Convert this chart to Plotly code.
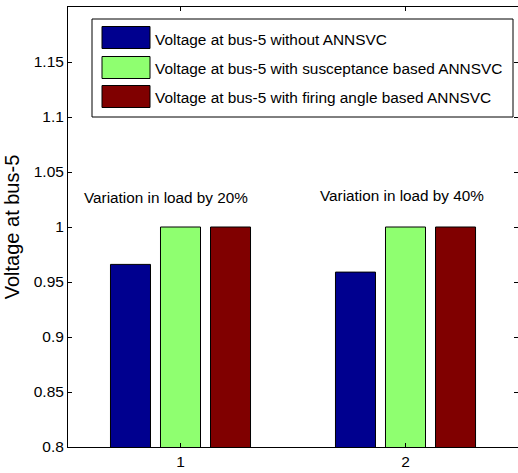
import plotly.graph_objects as go

categories = [1, 2]
series_names = [
    "Voltage at bus-5 without ANNSVC",
    "Voltage at bus-5 with susceptance based ANNSVC",
    "Voltage at bus-5 with firing angle based ANNSVC",
]
without_svc = [0.966, 0.959]
susceptance_svc = [1.0, 1.0]
firing_svc = [1.0, 1.0]
series_values = [without_svc, susceptance_svc, firing_svc]
colors = ["#00008F", "#8FFF70", "#800000"]
group_labels = ["Variation in load by 20%", "Variation in load by 40%"]
label_pos_x = [0.935, 1.985]
label_pos_y = [1.027, 1.029]
y_ticks = [0.8, 0.85, 0.9, 0.95, 1, 1.05, 1.1, 1.15]
y_ticktext = ["0.8", "0.85", "0.9", "0.95", "1", "1.05", "1.1", "1.15"]

FONT = "Liberation Sans, Arial, sans-serif"
W, H = 518, 473
ML, MR, MT, MB = 68, 0, 7, 26
PW, PH = W - ML - MR, H - MT - MB


def px(x):
    return (x - ML) / PW


def py(y):
    return (H - MB - y) / PH


fig = go.Figure()
for name, vals, col in zip(series_names, series_values, colors):
    fig.add_trace(go.Bar(
        x=categories, y=vals, name=name,
        marker=dict(color=col, line=dict(color="black", width=1)),
        showlegend=False,
    ))

annotations = []
for txt, ax, ay in zip(group_labels, label_pos_x, label_pos_y):
    annotations.append(dict(x=ax, y=ay, xref="x", yref="y", text=txt,
                            showarrow=False, font=dict(size=15.3, color="black", family=FONT)))

# custom legend
shapes = [dict(type="rect", xref="paper", yref="paper",
               x0=px(92), x1=px(513), y0=py(117), y1=py(19),
               line=dict(color="black", width=1), fillcolor="white", layer="above")]
row_y = [37.5, 67.5, 96.5]
for name, col, ry in zip(series_names, colors, row_y):
    shapes.append(dict(type="rect", xref="paper", yref="paper",
                       x0=px(102), x1=px(150), y0=py(ry + 11), y1=py(ry - 11),
                       line=dict(color="black", width=1), fillcolor=col, layer="above"))
    annotations.append(dict(x=px(153), y=py(ry + 1.5), xref="paper", yref="paper",
                            text=name, showarrow=False, xanchor="left", yanchor="middle",
                            font=dict(size=15.4, color="black", family=FONT)))

fig.update_layout(
    width=W, height=H,
    margin=dict(l=ML, r=MR, t=MT, b=MB),
    paper_bgcolor="white", plot_bgcolor="white",
    barmode="group", bargap=0.333, bargroupgap=0.2,
    font=dict(family=FONT, size=15, color="black"),
    shapes=shapes, annotations=annotations,
    showlegend=False,
)
fig.update_xaxes(range=[0.5, 2.5], tickvals=[1, 2], ticktext=["1", "2"],
                 showline=True, linecolor="black", linewidth=1, mirror="ticks",
                 ticks="inside", ticklen=4, tickcolor="black", showgrid=False,
                 zeroline=False, tickfont=dict(size=15.5))
fig.update_yaxes(range=[0.8, 1.2], tickvals=y_ticks, ticktext=y_ticktext,
                 showline=True, linecolor="black", linewidth=1, mirror="ticks",
                 ticks="inside", ticklen=4, tickcolor="black", showgrid=False,
                 zeroline=False, tickfont=dict(size=15.5),
                 title=dict(text="Voltage at bus-5", font=dict(size=20), standoff=8))

fig.write_html("out.html")
